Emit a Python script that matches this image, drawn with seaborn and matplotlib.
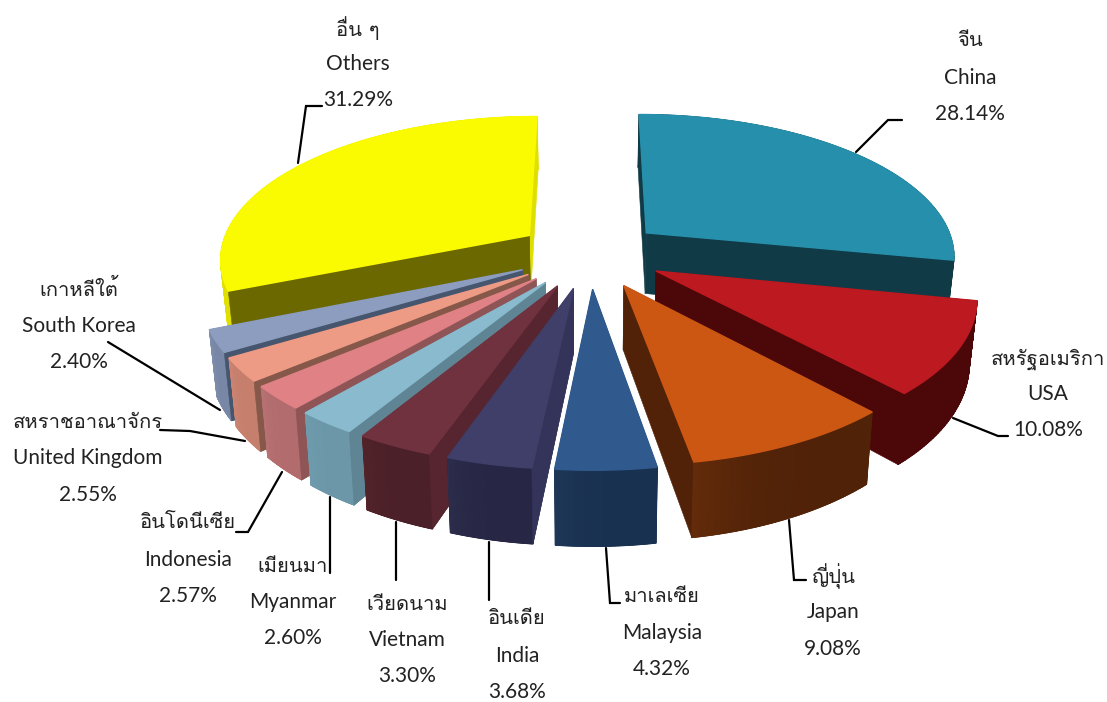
import numpy as np
import matplotlib
matplotlib.use('Agg')
import matplotlib.pyplot as plt
from matplotlib.colors import LinearSegmentedColormap
import seaborn as sns

# values, clockwise from the top
names_th = ['จีน', 'สหรัฐอเมริกา', 'ญี่ปุ่น', 'มาเลเซีย', 'อินเดีย', 'เวียดนาม', 'เมียนมา', 'อินโดนีเซีย', 'สหราชอาณาจักร', 'เกาหลีใต้', 'อื่น ๆ']
names_en = ['China', 'USA', 'Japan', 'Malaysia', 'India', 'Vietnam', 'Myanmar', 'Indonesia', 'United Kingdom', 'South Korea', 'Others']
shares = [28.14, 10.08, 9.08, 4.32, 3.68, 3.30, 2.60, 2.57, 2.55, 2.40, 31.29]

top_colors = ['#268FAB', '#BC1920', '#CC5713', '#30598E', '#3F3F69', '#70323F', '#89BACE', '#E08285', '#EE9B85', '#8C9DBF', '#FAFA00']
start_colors = ['#103A46', '#4C0709', '#522208', '#1B3350', '#34345A', '#57252F', '#5F8494', '#8E5456', '#85584A', '#46566E', '#6B6800']
end_colors = ['#103A46', '#4C0709', '#522208', '#1B3350', '#2A2A48', '#4F2129', '#5F8494', '#8E5456', '#85584A', '#46566E', '#DEDE00']
arc_colors = ['#103A46', '#4C0709', '#502208', '#193150', '#272745', '#4C2029', '#6B97A8', '#B26C6E', '#C67F6C', '#7787A5', '#E0E000']
arc_colors2 = ['#103A46', '#4C0709', '#642C0A', '#1E3757', '#2C2C4B', '#522329', '#6F9CAD', '#B87274', '#CC8572', '#7D8DAB', '#E0E000']

# draw order, back to front
order = [10, 0, 9, 8, 7, 6, 5, 4, 3, 1, 2]

# label centre x, first line y, line gap
label_pos = [(970, 41, 36.5), (1048, 359, 35.5), (833, 576, 36.5), (662, 597, 36), (517, 619, 36.5), (407, 604, 36),
             (293, 566, 36), (188, 523, 36.5), (88, 422, 36.5), (79, 289, 36.5), (358, 28, 36)]
leaders = [[(902, 120), (888, 120), (856, 152)], [(1008, 436), (998, 436), (953, 418)], [(806, 580), (794, 580), (789, 520)],
           [(620, 603), (610, 603), (606, 548)], [(489, 600), (489, 542)], [(396, 580), (396, 522)],
           [(330, 573), (330, 497)], [(236, 532), (248, 532), (282, 472)], [(160, 430), (190, 431), (245, 441)],
           [(108, 342), (220, 410)], [(322, 106), (306, 106), (298, 163)]]

CX, CY, RX, RY = 590, 254, 310, 142
PERSP, EXPLODE, DEPTH, SHRINK = 0.15, 0.24, 62, 0.02


def project(x, y, z=0.0):
    d = 1 / (1 + PERSP * y)
    return CX + RX * x * d * (1 - SHRINK * z), CY - RY * y * d + DEPTH * z * d


def radial_wall(ax, ox, oy, ang, col):
    ex, ey = ox + np.sin(ang), oy + np.cos(ang)
    pts = [project(ox, oy), project(ex, ey), project(ex, ey, 1), project(ox, oy, 1)]
    ax.fill(*zip(*pts), color=col, lw=0.4, zorder=2)


def draw_slice(ax, a0, a1, i):
    mid = (a0 + a1) / 2
    ox, oy = EXPLODE * np.sin(mid), EXPLODE * np.cos(mid)
    t = np.linspace(a0, a1, 60)
    xs, ys = ox + np.sin(t), oy + np.cos(t)

    # radial walls, the one further back first
    walls = [(a0, start_colors[i]), (a1, end_colors[i])]
    walls.sort(key=lambda w: -np.cos(w[0]))
    for ang, col in walls:
        radial_wall(ax, ox, oy, ang, col)

    # outer wall, plain fill for a clean edge and a smooth shade on top
    upper = np.array([project(a, b) for a, b in zip(xs, ys)])
    lower = np.array([project(a, b, 1) for a, b in zip(xs, ys)])
    ax.fill(*zip(*np.vstack([upper, lower[::-1]])), color=arc_colors[i], lw=0.4, zorder=2)
    cmap = LinearSegmentedColormap.from_list('wall', [arc_colors[i], arc_colors2[i]])
    shade = np.linspace(0, 1, len(t)) ** 4
    ax.pcolormesh(np.vstack([upper[:, 0], lower[:, 0]]), np.vstack([upper[:, 1], lower[:, 1]]),
                  np.vstack([shade, shade]), cmap=cmap, vmin=0, vmax=1, shading='gouraud', zorder=2)

    # left side slices show the start wall in front of the curved wall
    if a0 > np.pi:
        radial_wall(ax, ox, oy, a0, start_colors[i])

    # top face
    ax.fill(*zip(*np.vstack([[project(ox, oy)], upper])), color=top_colors[i], lw=1.0, zorder=2)


sns.set_theme(style='white')
plt.rcParams['font.family'] = ['Lato', 'DejaVu Sans']

fig, ax = plt.subplots(figsize=(11.07, 7.02), dpi=100)
ax.set_position([0, 0, 1, 1])
ax.set_xlim(0, 1107)
ax.set_ylim(702, 0)
ax.axis('off')

edges = np.concatenate([[0], np.cumsum(shares)]) / np.sum(shares) * 2 * np.pi
for i in order:
    draw_slice(ax, edges[i], edges[i + 1], i)

for i in range(len(shares)):
    x, y, gap = label_pos[i]
    ax.text(x, y, names_th[i], ha='center', va='center', fontsize=14.5, family=['Loma', 'DejaVu Sans'], color='#222222', zorder=4)
    ax.text(x, y + gap, names_en[i], ha='center', va='center', fontsize=15, color='#222222', zorder=4)
    ax.text(x, y + 2 * gap, f'{shares[i]:.2f}%', ha='center', va='center', fontsize=15, color='#222222', zorder=4)
    lx, ly = zip(*leaders[i])
    ax.plot(lx, ly, color='black', lw=1.6, solid_joinstyle='miter', zorder=3)

fig.savefig('out.png', dpi=100)
